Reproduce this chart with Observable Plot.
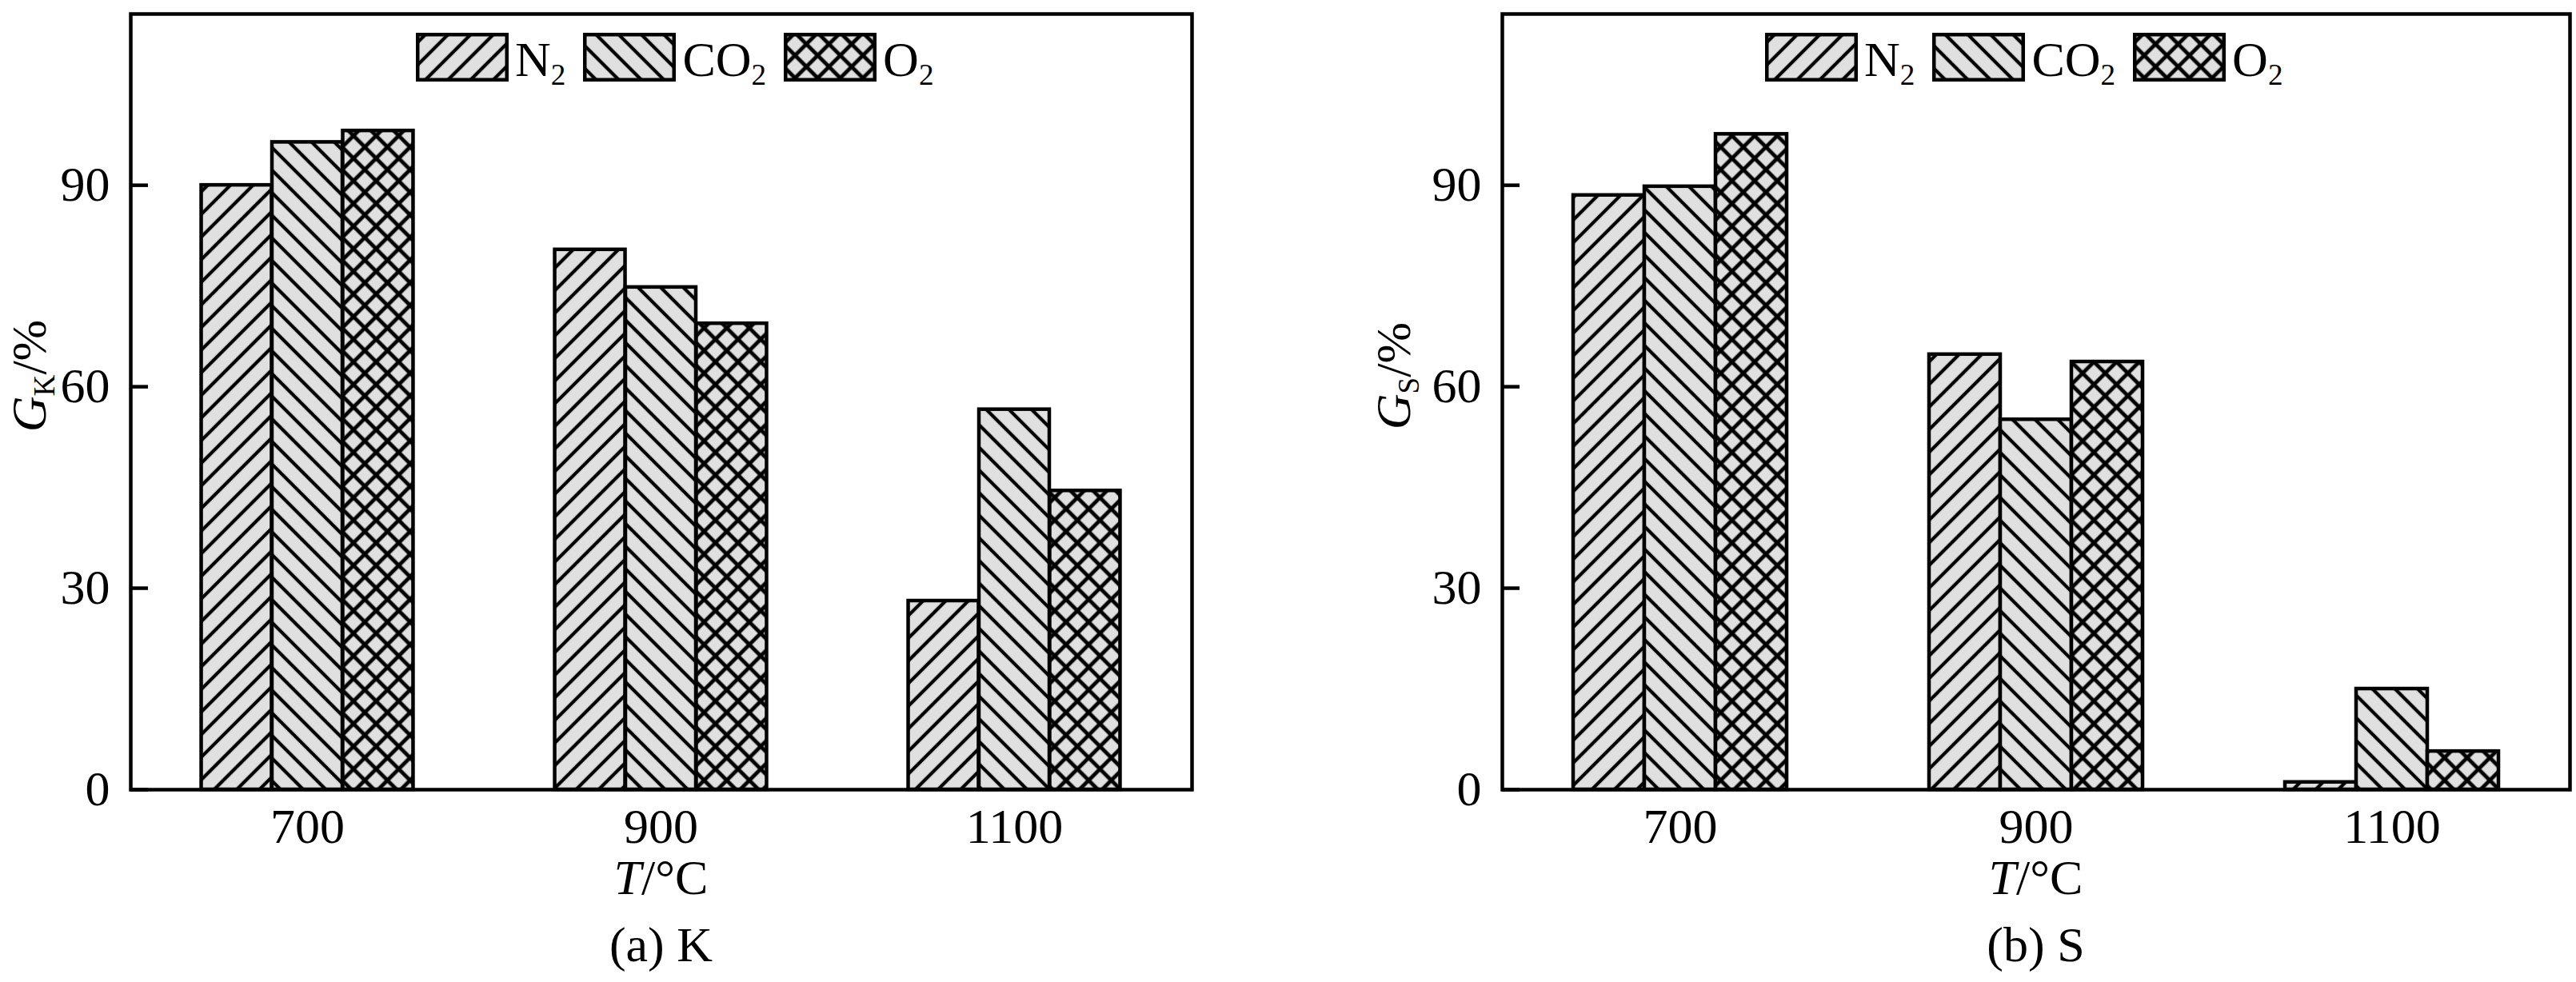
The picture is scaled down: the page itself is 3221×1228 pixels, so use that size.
<!DOCTYPE html>
<html>
<head>
<meta charset="utf-8">
<script src="https://cdn.jsdelivr.net/npm/d3@7"></script>
<script src="https://cdn.jsdelivr.net/npm/@observablehq/plot@0.6"></script>
<style>
  body { margin: 0; background: #fff; }
  #root { position: relative; width: 3221px; height: 1228px; font-family: "Liberation Serif", "Times New Roman", serif; color: #000; overflow: hidden; }
  .panel { position: absolute; top: 0; }
  .ylab { position: absolute; font-size: 62px; line-height: 1; white-space: nowrap; transform: translate(-50%, -50%) rotate(-90deg); }
  .xlab, .cap { position: absolute; font-size: 62px; line-height: 1; white-space: nowrap; transform: translateX(-50%); }
  .legend { position: absolute; display: flex; align-items: center; font-size: 62px; line-height: 1; }
  .legend .item { display: flex; align-items: center; margin-right: 22px; }
  .legend .item span { padding-top: 6px; }
  .legend svg { display: block; margin-right: 8px; }
  sub { font-size: 0.6em; vertical-align: -0.3em; line-height: 0; }
</style>
</head>
<body>
<svg width="0" height="0" style="position:absolute">
  <defs>
    <pattern id="pat-N2" patternUnits="userSpaceOnUse" width="20" height="20" patternTransform="rotate(-45)">
      <rect width="20" height="20" fill="#e0e0e0"/>
      <line x1="-2" y1="10" x2="22" y2="10" stroke="#000" stroke-width="4.3"/>
    </pattern>
    <pattern id="pat-CO2" patternUnits="userSpaceOnUse" width="20" height="20" patternTransform="rotate(45)">
      <rect width="20" height="20" fill="#e0e0e0"/>
      <line x1="-2" y1="10" x2="22" y2="10" stroke="#000" stroke-width="4.3"/>
    </pattern>
    <pattern id="pat-O2" patternUnits="userSpaceOnUse" width="20" height="20" patternTransform="rotate(45)">
      <rect width="20" height="20" fill="#e0e0e0"/>
      <line x1="-2" y1="10" x2="22" y2="10" stroke="#000" stroke-width="4.8"/>
      <line x1="10" y1="-2" x2="10" y2="22" stroke="#000" stroke-width="4.8"/>
    </pattern>
  </defs>
</svg>
<div id="root"></div>
<script>
// ---- data ----
const temperatures = ["700", "900", "1100"];
const gases = ["N2", "CO2", "O2"];
const gasLabels = ["N<sub>2</sub>", "CO<sub>2</sub>", "O<sub>2</sub>"];
const K_N2  = [90.0, 80.4, 28.1];
const K_CO2 = [96.4, 74.8, 56.6];
const K_O2  = [98.1, 69.4, 44.5];
const S_N2  = [88.5, 64.8, 1.1];
const S_CO2 = [89.8, 55.1, 15.0];
const S_O2  = [97.6, 63.7, 5.7];
const yTicks = [0, 30, 60, 90];
const yDomain = [0, 115.5];
const panelLabels = ["(a) K", "(b) S"];
const yLabelSubs = ["K", "S"];

// ---- layout ----
const root = document.getElementById("root");
const panels = [
  {left: 0, width: 1610, ml: 163, mr: 120, series: [K_N2, K_CO2, K_O2], sub: yLabelSubs[0], caption: panelLabels[0], ylabX: 36, legendX: 520},
  {left: 1610, width: 1611, ml: 268, mr: 8, series: [S_N2, S_CO2, S_O2], sub: yLabelSubs[1], caption: panelLabels[1], ylabX: 1742, legendX: 2207}
];
const marginTop = 17, plotBottom = 987, svgHeight = 1080;

panels.forEach(p => {
  const rows = [];
  gases.forEach((g, gi) => temperatures.forEach((t, ti) => rows.push({gas: g, T: t, value: p.series[gi][ti]})));
  const plotW = p.width - p.ml - p.mr;
  const paddingInner = 0.8, paddingOuter = 0.4;
  const bw = plotW / temperatures.length * (1 - paddingInner);
  const bars = gases.map((g, gi) => Plot.barY(rows.filter(d => d.gas === g), {
    x: "T", y: "value", fill: `url(#pat-${g})`, stroke: "black", strokeWidth: 4.5, dx: (gi - 1) * bw
  }));
  const chart = Plot.plot({
    width: p.width,
    height: svgHeight,
    marginLeft: p.ml,
    marginRight: p.mr,
    marginTop: marginTop,
    marginBottom: svgHeight - plotBottom,
    style: {fontFamily: "Liberation Serif, Times New Roman, serif", fontSize: "62px", color: "black", background: "transparent", overflow: "visible"},
    x: {domain: temperatures, paddingInner, paddingOuter, label: null},
    y: {domain: yDomain, label: null},
    marks: [
      ...bars,
      Plot.frame({stroke: "black", strokeWidth: 4.5}),
      Plot.axisX({tickSize: 0, tickPadding: 22, label: null}),
      Plot.axisY({ticks: yTicks, tickSize: -22, tickPadding: 48, strokeWidth: 4.5, label: null})
    ]
  });
  const wrap = document.createElement("div");
  wrap.className = "panel";
  wrap.style.left = p.left + "px";
  wrap.appendChild(chart);
  root.appendChild(wrap);

  const cx = p.left + p.ml + plotW / 2;

  const yl = document.createElement("div");
  yl.className = "ylab";
  yl.style.left = p.ylabX + "px";
  yl.style.top = "470px";
  yl.innerHTML = `<i>G</i><sub>${p.sub}</sub>/%`;
  root.appendChild(yl);

  const xl = document.createElement("div");
  xl.className = "xlab";
  xl.style.left = cx + "px";
  xl.style.top = "1066px";
  xl.innerHTML = `<i>T</i>/°C`;
  root.appendChild(xl);

  const cap = document.createElement("div");
  cap.className = "cap";
  cap.style.left = cx + "px";
  cap.style.top = "1150px";
  cap.textContent = p.caption;
  root.appendChild(cap);

  const lg = document.createElement("div");
  lg.className = "legend";
  lg.style.left = p.legendX + "px";
  lg.style.top = "37px";
  gases.forEach((g, gi) => {
    const it = document.createElement("div");
    it.className = "item";
    it.innerHTML = `<svg width="116" height="61"><rect x="2.25" y="2.25" width="111.5" height="56.5" fill="url(#pat-${g})" stroke="#000" stroke-width="4.5"/></svg><span>${gasLabels[gi]}</span>`;
    lg.appendChild(it);
  });
  root.appendChild(lg);
});
</script>
</body>
</html>
